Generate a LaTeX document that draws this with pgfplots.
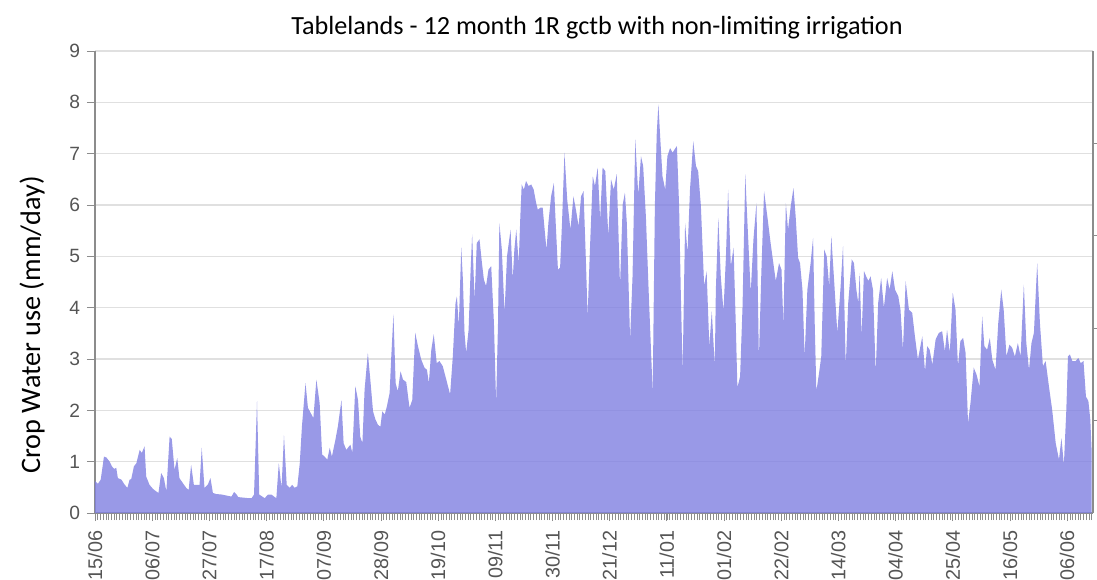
\documentclass[border=0pt]{standalone}
\usepackage{fontspec}
\setmainfont{Liberation Sans}
\newfontfamily\calibri{Carlito}
\usepackage{pgfplots}
\pgfplotsset{compat=1.18}
\definecolor{areafill}{RGB}{130,130,226}
\definecolor{gridc}{RGB}{224,224,224}
\definecolor{axc}{RGB}{140,140,140}
\definecolor{tickc}{RGB}{85,85,85}
\begin{document}
\begin{tikzpicture}
\begin{axis}[
  scale only axis, width=499pt, height=231pt,
  xmin=0, xmax=366.5, ymin=0, ymax=9,
  axis x line*=bottom, axis y line*=left,
  axis line style={axc, line width=0.8pt},
  ytick={0,1,...,9},
  ymajorgrids, major grid style={gridc, line width=0.8pt},
  xtick={0,21,...,357},
  xticklabels={15/06,06/07,27/07,17/08,07/09,28/09,19/10,09/11,30/11,21/12,11/01,01/02,22/02,14/03,04/04,25/04,16/05,06/06},
  minor xtick={0,1,...,366},
  tick align=outside,
  major tick length=4pt, minor tick length=3.5pt,
  tick style={axc, line width=0.4pt},
  minor tick style={axc, line width=0.3pt},
  x tick label style={yshift=-1.4pt, rotate=90, anchor=east, font=\fontsize{9.9}{11}\selectfont, text=tickc},
  y tick label style={font=\fontsize{9.6}{11}\selectfont, text=tickc},
  /pgf/number format/assume math mode=true,
  every axis title shift=0pt,
  title={\calibri Tablelands - 12 month 1R gctb with non-limiting irrigation},
  title style={at={(axis description cs:0.503,1.05)}, anchor=center, font=\fontsize{13.1}{15}\selectfont},
  ylabel={\calibri Crop Water use (mm/day)},
  ylabel style={at={(axis description cs:-0.063,0.407)}, anchor=center, font=\fontsize{14.1}{16}\selectfont},
]
\addplot[fill=areafill, fill opacity=0.82, draw=none] coordinates {
(0,0.62) (1.1,0.57) (2.1,0.65) (3.3,1.1) (4.2,1.08) (5.4,1.0) (6.2,0.91) (7,0.86) (7.8,0.88) (8.4,0.68) (9.7,0.65) (10.9,0.55) (11.9,0.49) (12.7,0.65) (13.3,0.66) (14.3,0.91) (15.2,0.97) (16.4,1.23) (17.2,1.17) (18.2,1.3) (18.8,0.71) (20,0.55) (21.3,0.47) (22.5,0.42) (23.3,0.39) (24.3,0.78) (25.3,0.68) (26.2,0.42) (27.4,1.49) (28.2,1.44) (29.2,0.84) (30.2,1.07) (31,0.68) (32.3,0.58) (33.5,0.49) (34.4,0.45) (35.3,0.94) (36.3,0.55) (37.2,0.55) (38.4,0.55) (39.2,1.27) (40.2,0.49) (41.4,0.55) (42.4,0.68) (43.3,0.39)
(44.5,0.37) (46.5,0.36) (50.1,0.32) (51.1,0.41) (52,0.36) (52.6,0.31) (56.2,0.29) (57.5,0.29) (58.4,0.36) (59.5,2.18) (60.3,0.36) (62.3,0.29) (63.6,0.36) (64.8,0.36) (66,0.31) (66.6,0.29) (67.5,0.97) (68.5,0.49) (69.4,1.51) (70.4,0.55) (71.5,0.49) (72.4,0.55) (73.3,0.49) (74.3,0.52) (75.2,0.97) (76,1.69) (77.3,2.53) (78.2,2.05) (79.2,1.95) (80.2,1.85) (81.3,2.6) (82.5,2.14) (83.4,1.14) (84.3,1.1) (85.3,1.04) (86.2,1.27) (87,1.1) (88.3,1.43) (89.2,1.69)
(90.5,2.2) (91.3,1.36) (92.3,1.23) (93.3,1.3) (93.8,1.33) (94.5,1.17) (95.6,2.47) (96.6,2.2) (97.4,1.49) (98.2,1.36) (99,2.4) (100.2,3.12) (101.1,2.6) (102.1,1.98) (103,1.82) (103.9,1.72) (104.8,1.68) (105.5,1.98) (106.4,1.92) (107.2,2.08) (108.2,2.34) (108.8,3.05) (109.6,3.87) (110.4,2.53) (111.2,2.37) (112.2,2.76) (113.1,2.6) (114.3,2.55) (115.5,2.05) (116.5,2.2) (117.6,3.51) (118.6,3.25) (119.8,2.99) (121,2.83) (121.9,2.79) (122.6,2.53) (123.5,3.18) (124.4,3.48) (125.5,2.92) (126.5,2.96) (127.7,2.86) (129,2.6) (130.4,2.31) (131.4,3.05) (132.4,4.09) (132.9,4.22) (133.6,3.64) (134.5,5.17) (135.1,4.55) (135.7,3.51)
(136.3,3.12) (137.2,3.57) (137.9,4.68) (138.5,5.43) (139.4,4.16) (140.2,5.26) (141.2,5.33) (142.1,4.87) (142.8,4.55) (143.6,4.42) (144.5,4.74) (145.5,4.81) (146.5,3.7) (147.3,2.14) (148,3.7) (148.5,5.65) (149.4,5.13) (150.4,3.9) (151.3,5.0) (152.6,5.52) (153.4,4.55) (154,5.13) (154.7,5.52) (155.6,4.87) (156.2,5.78) (156.7,6.4) (157.5,6.3) (158.3,6.47) (159.2,6.37) (160.2,6.4) (161.1,6.3) (162,6.04) (162.6,5.91) (163.6,5.95) (164.4,5.95) (165,5.59) (165.8,5.13) (166.5,5.65) (167.5,6.17) (168.5,6.43) (169.3,5.52) (170,4.74) (170.8,4.78) (171.5,5.65) (172.4,7.02) (173.4,6.11) (174.6,5.52) (175.7,6.17) (176.6,5.91) (177.6,5.59) (178.5,6.17) (179.4,6.27) (180.3,4.87) (180.9,3.83)
(181.8,5.2) (182.8,6.56) (183.6,6.37) (184.6,6.73) (185.5,5.72) (186.4,6.73) (187.4,6.66) (188.5,5.39) (189.5,6.5) (190.5,6.3) (191.6,6.6) (192.8,4.42) (193.8,6.01) (194.6,6.24) (195.3,5.65) (196.5,3.38) (197.4,4.61) (198.4,7.28) (199.5,6.2) (200.5,6.95) (201.3,6.76) (202.3,5.78) (203.3,4.35) (204.8,2.34) (205.6,5.98) (206.3,7.41) (206.9,7.96) (207.6,7.28) (208.4,6.56) (209.4,6.3) (210.2,6.95) (211.2,7.11) (212.1,7.02) (212.8,7.08) (213.7,7.15) (214.5,5.98) (215.1,4.35) (215.8,2.76) (216.7,5.65) (217.6,5.07) (218.5,6.3) (219.7,7.24) (220.7,6.76) (221.5,6.66) (222.5,5.98) (223.7,4.42) (224.6,4.71) (225.6,3.25) (226.5,3.93) (227.6,2.86)
(228,4.35) (228.9,5.75) (229.8,4.61) (230.8,3.93) (231.7,5.0) (232.5,6.3) (233.5,4.81) (234.5,5.17) (235.3,3.7) (235.9,2.44) (236.9,2.66) (237.8,4.03) (238.8,6.6) (239.6,5.65) (240.8,4.29) (241.8,5.33) (242.9,6.04) (243.8,2.99) (244.7,4.68) (245.7,6.27) (246.9,5.78) (248.1,5.26) (249.1,4.87) (250,4.52) (251.2,4.87) (252.1,4.74) (252.8,3.67) (253.7,6.04) (254.5,5.52) (255.5,5.98) (256.5,6.33) (257.3,5.78) (258.2,4.97) (258.9,4.87) (259.8,4.35) (260.6,3.05) (261.6,4.35) (262.8,4.87) (263.7,5.36) (264.3,3.7) (264.9,2.37) (265.9,2.73) (266.7,3.05) (267.8,5.13) (268.7,5.0) (269.6,4.42) (270.4,5.39) (271.4,4.55) (272.6,3.51)
(273.8,4.4) (274.7,5.2) (275.7,2.86) (276.6,4.09) (277.9,4.94) (278.7,4.87) (279.6,4.35) (280.3,4.09) (280.8,4.68) (281.5,3.44) (282.4,4.71) (283.2,4.61) (284,4.52) (284.8,4.61) (285.7,4.35) (286.7,2.73) (287.6,4.09) (288.7,4.58) (289.7,4.0) (290.9,4.58) (291.8,4.35) (292.8,4.71) (293.8,4.35) (295,4.22) (295.8,3.96) (296.7,3.18) (297.7,4.52) (298.9,3.96) (300.1,3.9) (301.1,3.44) (302.2,2.99) (303.8,3.44) (304.8,2.76) (305.6,3.25) (306.5,3.18) (307.5,2.89) (308.7,3.38) (309.9,3.51) (311.1,3.54) (312.1,3.15) (312.9,3.57) (313.9,3.12) (315,4.29) (316,3.96) (316.9,2.86) (317.8,3.35) (318.8,3.41) (319.7,3.12) (320.6,1.75)
(321.5,2.14) (322.7,2.83) (323.7,2.7) (324.8,2.47) (325.8,3.83) (326.6,3.25) (327.6,3.18) (328.6,3.41) (329.5,2.99) (330.7,2.79) (331.7,3.7) (332.8,4.35) (333.7,3.96) (334.7,3.05) (335.8,3.28) (336.8,3.22) (337.8,3.05) (338.9,3.31) (339.9,3.05) (341.1,4.45) (342,3.31) (343,2.79) (343.9,3.31) (344.8,3.51) (346,4.87) (347,3.7) (348.1,2.86) (349.1,2.96) (350.3,2.47) (351.5,2.01) (352.8,1.36) (354,1.04) (354.9,1.46) (355.8,0.94) (356.7,2.01) (357.3,3.05) (358,3.09) (358.9,2.96) (360.1,2.96) (361.1,3.02) (362,2.92) (363,2.96) (363.9,2.27) (364.8,2.18) (365.5,1.82) (366,1.2)
} \closedcycle;
\end{axis}
\begin{axis}[
  scale only axis, width=499pt, height=231pt,
  xmin=0, xmax=366.5, ymin=0, ymax=9,
  axis x line=none, axis y line*=right,
  axis line style={axc, line width=0.8pt},
  ytick={1.8,3.6,5.4,7.2}, yticklabels={},
  tick align=outside, major tick length=2pt,
  tick style={axc, line width=0.4pt},
]
\addplot[draw=none] coordinates {(0,0)};
\end{axis}
\pgfresetboundingbox
\path (-47.5pt,-33pt) rectangle (501pt,256.5pt);
\end{tikzpicture}
\end{document}
